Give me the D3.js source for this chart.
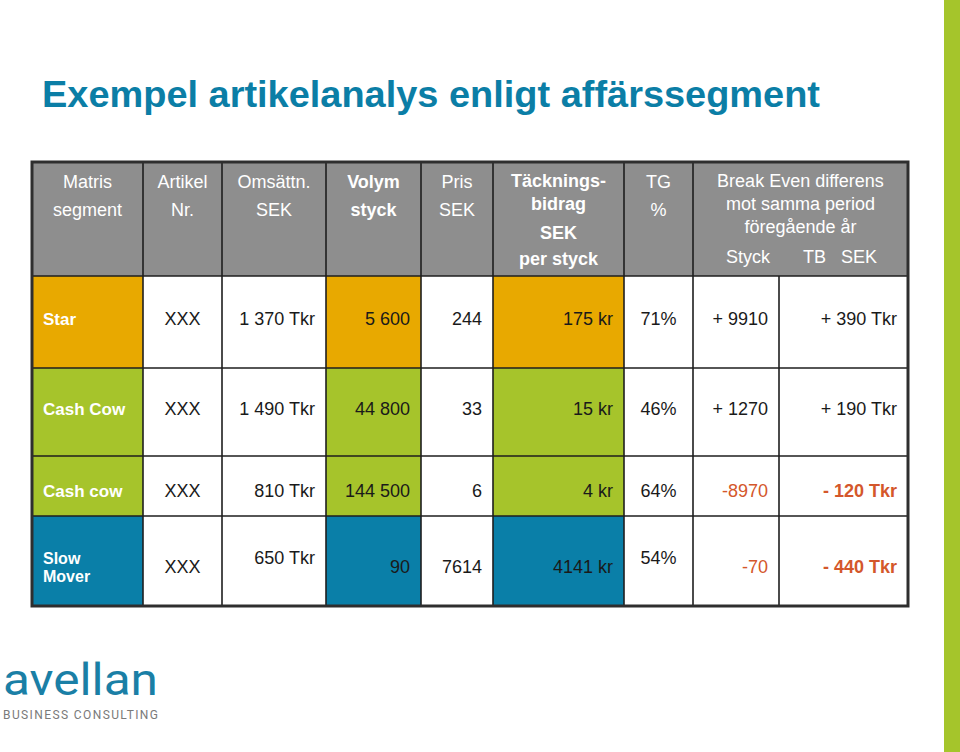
<!DOCTYPE html>
<html><head><meta charset="utf-8">
<script src="https://cdn.jsdelivr.net/npm/d3@7/dist/d3.min.js"></script>
<style>html,body{margin:0;padding:0;background:#fff;}svg{display:block;}</style>
</head><body>
<svg id="c" width="960" height="752"></svg>
<script>
// ---------- DATA ----------
const titleText = "Exempel artikelanalys enligt affärssegment";
const segments = [["Star"], ["Cash Cow"], ["Cash cow"], ["Slow", "Mover"]];
const segmentType = ["star", "cow", "cow", "slow"];
const artikelNr = ["XXX", "XXX", "XXX", "XXX"];
const omsattning = ["1 370 Tkr", "1 490 Tkr", "810 Tkr", "650 Tkr"];
const volym = ["5 600", "44 800", "144 500", "90"];
const pris = ["244", "33", "6", "7614"];
const tbPerStyck = ["175 kr", "15 kr", "4 kr", "4141 kr"];
const tgPercent = ["71%", "46%", "64%", "54%"];
const beStyck = ["+ 9910", "+ 1270", "-8970", "-70"];
const beTbSek = ["+ 390 Tkr", "+ 190 Tkr", "- 120 Tkr", "- 440 Tkr"];
const headerLabels = [
  ["Matris", "segment"], ["Artikel", "Nr."], ["Omsättn.", "SEK"], ["Volym", "styck"],
  ["Pris", "SEK"], ["Täcknings-", "bidrag", "SEK", "per styck"], ["TG", "%"]
];
const headerBold = [false, false, false, true, false, true, false];
const breakEvenHeader = ["Break Even differens", "mot samma period", "föregående år"];
const breakEvenSub = ["Styck", "TB   SEK"];
const logoName = "avellan";
const logoSub = "BUSINESS CONSULTING";

// ---------- LAYOUT ----------
const colKeys = d3.range(10);
const colEdge = d3.scaleOrdinal().domain(colKeys).range([32, 143, 222, 326, 421, 493, 624, 693, 779, 908]);
const rowKeys = d3.range(6);
const rowEdge = d3.scaleOrdinal().domain(rowKeys).range([162, 276, 368, 456, 516, 606]);
const rowBaseShift = [3, 3, 11, 12];
const colAlign = ["seg", "middle", "end", "end", "end", "end", "middle", "end", "end"];
const pad = 11;
const fillColor = {star: "#e8a900", cow: "#a6c42b", slow: "#0a7fa8"};
const colored = new Set([0, 3, 5]);
const raised = new Set(["3-2", "3-6"]);
const font = "'Liberation Sans', Arial, sans-serif";

const svg = d3.select("#c");

// right green bar
svg.append("rect").attr("x", 944).attr("y", 0).attr("width", 16).attr("height", 752).attr("fill", "#a5c52b");

// title
const title = svg.append("text").attr("x", 42).attr("y", 107)
  .attr("font-family", "'Liberation Sans Narrow', 'Liberation Sans', sans-serif")
  .attr("font-weight", "bold").attr("font-size", 37).attr("fill", "#0b7ea6")
  .text(titleText);
title.attr("textLength", 778).attr("lengthAdjust", "spacingAndGlyphs");

// header background
const headTop = rowEdge(0), headBot = rowEdge(1);
svg.append("rect").attr("x", colEdge(0)).attr("y", headTop)
  .attr("width", colEdge(9) - colEdge(0)).attr("height", headBot - headTop).attr("fill", "#8e8e8e");

// data
const columnsData = [segments, artikelNr, omsattning, volym, pris, tbPerStyck, tgPercent, beStyck, beTbSek];
const cells = [];
for (let r = 0; r < segments.length; r++) {
  for (let c = 0; c < columnsData.length; c++) {
    cells.push({r, c, v: columnsData[c][r]});
  }
}

// cell fills
svg.append("g").selectAll("rect").data(cells.filter(d => colored.has(d.c))).join("rect")
  .attr("x", d => colEdge(d.c)).attr("y", d => rowEdge(d.r + 1))
  .attr("width", d => colEdge(d.c + 1) - colEdge(d.c))
  .attr("height", d => rowEdge(d.r + 2) - rowEdge(d.r + 1))
  .attr("fill", d => fillColor[segmentType[d.r]]);

// grid lines
const grid = svg.append("g").attr("stroke", "#1e1e1e").attr("stroke-width", 1.6);
rowKeys.slice(1, 5).forEach(i => {
  grid.append("line").attr("x1", colEdge(0)).attr("x2", colEdge(9)).attr("y1", rowEdge(i)).attr("y2", rowEdge(i));
});
colKeys.slice(1, 9).forEach(i => {
  grid.append("line").attr("x1", colEdge(i)).attr("x2", colEdge(i))
    .attr("y1", i === 8 ? rowEdge(1) : rowEdge(0)).attr("y2", rowEdge(5));
});
// outer border
svg.append("rect").attr("x", colEdge(0)).attr("y", rowEdge(0))
  .attr("width", colEdge(9) - colEdge(0)).attr("height", rowEdge(5) - rowEdge(0))
  .attr("fill", "none").attr("stroke", "#2e2e2e").attr("stroke-width", 3);

// header text
const hg = svg.append("g").attr("font-family", font).attr("font-size", 18).attr("fill", "#fff").attr("text-anchor", "middle");
const lineBase2 = [188, 216];
const lineBase4 = [187, 210, 239, 265];
headerLabels.forEach((lines, c) => {
  const cx = (colEdge(c) + colEdge(c + 1)) / 2;
  const bases = lines.length === 4 ? lineBase4 : lineBase2;
  lines.forEach((t, i) => {
    hg.append("text").attr("x", cx).attr("y", bases[i])
      .attr("font-weight", headerBold[c] ? "bold" : "normal").text(t);
  });
});
const beCx = (colEdge(7) + colEdge(9)) / 2;
[187, 210, 233].forEach((y, i) => {
  hg.append("text").attr("x", beCx).attr("y", y).text(breakEvenHeader[i]);
});
hg.append("text").attr("x", 748).attr("y", 263).text(breakEvenSub[0]);
hg.append("text").attr("x", 840).attr("y", 263).style("white-space", "pre").text(breakEvenSub[1]);

// body text
const bg = svg.append("g").attr("font-family", font).attr("font-size", 18);
cells.forEach(d => {
  const y0 = rowEdge(d.r + 1), y1 = rowEdge(d.r + 2);
  const base = (y0 + y1) / 2 + rowBaseShift[d.r] - (raised.has(d.r + "-" + d.c) ? 9 : 0);
  const a = colAlign[d.c];
  if (a === "seg") {
    const lines = d.v;
    const lh = 18;
    lines.forEach((t, i) => {
      bg.append("text").attr("x", colEdge(0) + 11)
        .attr("y", base + (i - (lines.length - 1) / 2) * lh)
        .attr("font-weight", "bold").attr("font-size", lines.length > 1 ? 16 : 17).attr("fill", "#fff").text(t);
    });
    return;
  }
  const x = a === "middle" ? (colEdge(d.c) + colEdge(d.c + 1)) / 2 : colEdge(d.c + 1) - pad;
  const neg = (d.c === 7 || d.c === 8) && d.v.trim().startsWith("-");
  bg.append("text").attr("x", x).attr("y", base).attr("text-anchor", a)
    .attr("fill", neg ? "#d4572b" : "#1a1a1a")
    .attr("font-weight", neg && d.c === 8 ? "bold" : "normal")
    .style("white-space", "pre").text(d.v);
});

// logo
svg.append("text").attr("x", 3).attr("y", 695).attr("font-family", "Roboto, sans-serif")
  .attr("font-size", 45).attr("fill", "#1a7fa6").attr("textLength", 155).attr("lengthAdjust", "spacingAndGlyphs")
  .text(logoName);
svg.append("text").attr("x", 3).attr("y", 719).attr("font-family", "Roboto, sans-serif")
  .attr("font-size", 12).attr("fill", "#7a7a7a").attr("textLength", 155).attr("lengthAdjust", "spacing")
  .text(logoSub);
</script>
</body></html>
